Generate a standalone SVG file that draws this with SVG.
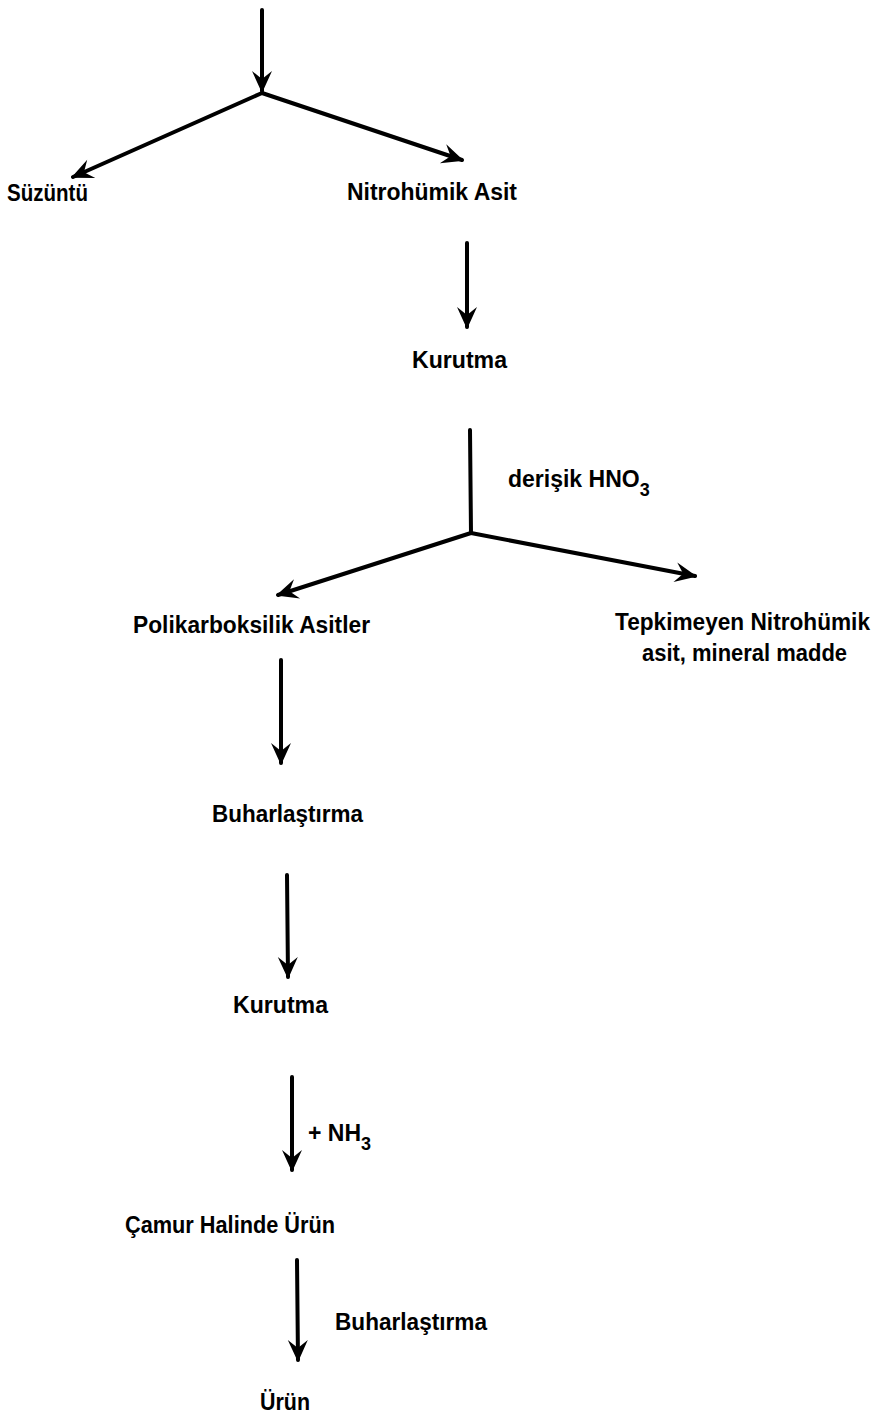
<svg xmlns="http://www.w3.org/2000/svg" width="883" height="1425" viewBox="0 0 883 1425">
<style>
  .t { font-family: "Liberation Sans", Arial, sans-serif; font-weight: bold; font-size: 23px; fill: #000; }
  .b { font-size: 23px; }
  .s { font-size: 18px; }
  .c { fill: none; stroke: #000; stroke-width: 4; stroke-linecap: round; }
</style>
<defs>
  <marker id="ah" markerUnits="userSpaceOnUse" markerWidth="30" markerHeight="30" viewBox="-25 -15 30 30" refX="0" refY="0" orient="auto">
    <path d="M2,0 L-20,-10 L-12,0 L-20,10 Z" fill="#000"/>
  </marker>
</defs>
<g id="connectors">
  <line class="c" x1="262" y1="10" x2="262" y2="91" marker-end="url(#ah)"/>
  <line class="c" x1="262" y1="93" x2="73" y2="177" marker-end="url(#ah)"/>
  <line class="c" x1="262" y1="93" x2="462" y2="160" marker-end="url(#ah)"/>
  <line class="c" x1="467" y1="243" x2="467" y2="327" marker-end="url(#ah)"/>
  <line class="c" x1="470" y1="430" x2="471" y2="533"/>
  <line class="c" x1="471" y1="533" x2="278" y2="595" marker-end="url(#ah)"/>
  <line class="c" x1="471" y1="533" x2="695" y2="576" marker-end="url(#ah)"/>
  <line class="c" x1="281" y1="660" x2="281" y2="763" marker-end="url(#ah)"/>
  <line class="c" x1="287" y1="875" x2="288" y2="977" marker-end="url(#ah)"/>
  <line class="c" x1="292" y1="1077" x2="292" y2="1170" marker-end="url(#ah)"/>
  <line class="c" x1="297" y1="1260" x2="298" y2="1360" marker-end="url(#ah)"/>
</g>
<g id="suzuntu"><text class="t" x="7" y="201" textLength="81" lengthAdjust="spacingAndGlyphs">Süzüntü</text></g>
<g id="nitrohumik"><text class="t" x="347" y="200" textLength="170" lengthAdjust="spacingAndGlyphs">Nitrohümik Asit</text></g>
<g id="kurutma1"><text class="t" x="412" y="368" textLength="95" lengthAdjust="spacingAndGlyphs">Kurutma</text></g>
<g id="hno3"><text class="t b" x="508" y="487">derişik HNO<tspan class="s" dy="9">3</tspan></text></g>
<g id="polikarboksilik"><text class="t" x="133" y="633" textLength="237" lengthAdjust="spacingAndGlyphs">Polikarboksilik Asitler</text></g>
<g id="tepkimeyen">
  <text class="t" x="615" y="630" textLength="255" lengthAdjust="spacingAndGlyphs">Tepkimeyen Nitrohümik</text>
  <text class="t" x="642" y="661" textLength="205" lengthAdjust="spacingAndGlyphs">asit, mineral madde</text>
</g>
<g id="buharlastirma1"><text class="t" x="212" y="822" textLength="151" lengthAdjust="spacingAndGlyphs">Buharlaştırma</text></g>
<g id="kurutma2"><text class="t" x="233" y="1013" textLength="95" lengthAdjust="spacingAndGlyphs">Kurutma</text></g>
<g id="nh3"><text class="t b" x="308" y="1141">+ NH<tspan class="s" dy="9">3</tspan></text></g>
<g id="camur"><text class="t" x="125" y="1233" textLength="210" lengthAdjust="spacingAndGlyphs">Çamur Halinde Ürün</text></g>
<g id="buharlastirma2"><text class="t" x="335" y="1330" textLength="152" lengthAdjust="spacingAndGlyphs">Buharlaştırma</text></g>
<g id="urun"><text class="t" x="260" y="1410" textLength="50" lengthAdjust="spacingAndGlyphs">Ürün</text></g>
</svg>
